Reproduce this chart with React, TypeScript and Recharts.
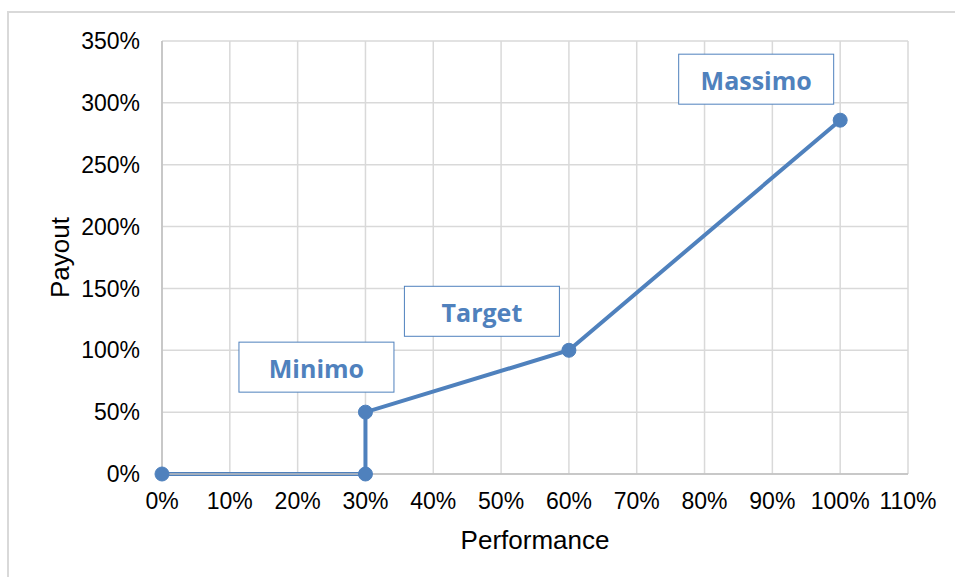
import { LineChart, Line, XAxis, YAxis, CartesianGrid, LabelList } from 'recharts';

// performance / payout curve
const performance = [0, 30, 30, 60, 100];
const payout = [0, 0, 50, 100, 286];
const pointLabels = ['', '', 'Minimo', 'Target', 'Massimo'];

const xTicks = [0, 10, 20, 30, 40, 50, 60, 70, 80, 90, 100, 110];
const yTicks = [0, 50, 100, 150, 200, 250, 300, 350];

const data = performance.map((perf, i) => ({
  perf,
  payout: payout[i],
  label: pointLabels[i],
}));

const BLUE = '#4F81BD';
const GRID = '#D9D9D9';
const AXIS = '#BFBFBF';
const TICK_FONT = 'Liberation Sans, Arial, sans-serif';

// where each callout box sits relative to its point
const boxOffset: Record<string, { dx: number; dy: number }> = {
  Minimo: { dx: -49, dy: -45 },
  Target: { dx: -87, dy: -39 },
  Massimo: { dx: -84, dy: -41 },
};

function Callout(props: any) {
  const { x, y, value } = props;
  if (!value) return null;
  const off = boxOffset[value];
  const w = 155;
  const h = 50;
  const cx = x + off.dx;
  const cy = y + off.dy;
  return (
    <g>
      <rect x={cx - w / 2} y={cy - h / 2} width={w} height={h} fill="#fff" stroke={BLUE} strokeWidth={1} />
      <text
        x={cx}
        y={cy + 1}
        textAnchor="middle"
        dominantBaseline="central"
        fill={BLUE}
        fontFamily="'Open Sans', Lato, sans-serif"
        fontWeight={700}
        fontSize={25}
      >
        {value}
      </text>
    </g>
  );
}

export default function App() {
  return (
    <div style={{ position: 'absolute', left: 0, top: 0, width: 955, height: 577, overflow: 'hidden', background: '#fff' }}>
      <div
        style={{
          position: 'absolute',
          left: 7,
          top: 11,
          width: 980,
          height: 600,
          border: `2px solid ${GRID}`,
        }}
      />
      <div style={{ position: 'absolute', left: 0, top: 0 }}>
        <LineChart width={955} height={577} data={data} margin={{ top: 41, right: 47, bottom: 0, left: 0 }}>
          <CartesianGrid stroke={GRID} strokeWidth={1.5} />
          <XAxis
            type="number"
            dataKey="perf"
            domain={[0, 110]}
            ticks={xTicks}
            interval={0}
            tickFormatter={(v: number) => `${v}%`}
            height={103}
            tickLine={false}
            tickSize={0}
            tickMargin={19}
            stroke={AXIS}
            strokeWidth={1.5}
            tick={{ fill: '#000', fontSize: 23, fontFamily: TICK_FONT }}
            label={{
              value: 'Performance',
              position: 'insideBottom',
              offset: 28,
              fill: '#000',
              fontSize: 26,
              fontFamily: TICK_FONT,
            }}
          />
          <YAxis
            type="number"
            domain={[0, 350]}
            ticks={yTicks}
            interval={0}
            tickFormatter={(v: number) => `${v}%`}
            width={162}
            tickLine={false}
            tickSize={0}
            tickMargin={22}
            stroke={AXIS}
            strokeWidth={1.5}
            tick={{ fill: '#000', fontSize: 23, fontFamily: TICK_FONT }}
            label={{
              value: 'Payout',
              angle: -90,
              position: 'insideLeft',
              offset: 60,
              fill: '#000',
              fontSize: 26,
              fontFamily: TICK_FONT,
              style: { textAnchor: 'middle' },
            }}
          />
          <Line
            type="linear"
            dataKey="payout"
            stroke={BLUE}
            strokeWidth={4}
            dot={{ r: 7, fill: BLUE, stroke: BLUE, strokeWidth: 1 }}
            activeDot={false}
            isAnimationActive={false}
          >
            <LabelList dataKey="label" content={Callout} />
          </Line>
        </LineChart>
      </div>
    </div>
  );
}
